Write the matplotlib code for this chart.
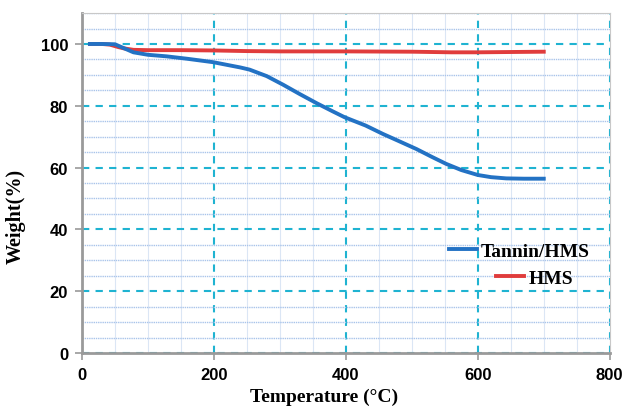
import matplotlib.pyplot as plt
from matplotlib.ticker import MultipleLocator

# TGA curves (temperature in C, weight in %)
tannin_temp = [12, 30, 50, 65, 78, 100, 128, 160, 199, 240, 254, 280, 305, 330, 356, 380,
               398, 430, 456, 480, 507, 530, 552, 575, 600, 620, 643, 670, 700]
tannin_wt = [100.0, 100.0, 99.9, 98.5, 97.3, 96.5, 96.0, 95.2, 94.1, 92.4, 91.7, 89.6, 86.8,
             83.8, 80.8, 78.2, 76.3, 73.6, 70.9, 68.6, 66.0, 63.5, 61.2, 59.2, 57.6, 56.9,
             56.5, 56.4, 56.4]

hms_temp = [12, 30, 42, 55, 63, 78, 100, 150, 200, 250, 300, 400, 500, 560, 600, 650, 700]
hms_wt = [100.0, 100.0, 99.8, 99.0, 98.6, 98.1, 98.0, 98.0, 97.9, 97.7, 97.6, 97.6, 97.5,
          97.3, 97.3, 97.4, 97.5]

fig = plt.figure(figsize=(6.26, 4.14), dpi=100)
ax = fig.add_axes([0.131, 0.145, 0.843, 0.821])

ax.set_xlim(0, 800)
ax.set_ylim(0, 110)
ax.xaxis.set_major_locator(MultipleLocator(200))
ax.xaxis.set_minor_locator(MultipleLocator(50))
ax.yaxis.set_major_locator(MultipleLocator(20))
ax.yaxis.set_minor_locator(MultipleLocator(5))

ax.grid(which='minor', axis='y', color='#a9c4ea', linewidth=1.0, linestyle=(0, (1, 0.6)))
ax.grid(which='minor', axis='x', color='#dbe6f5', linewidth=0.8)
ax.grid(which='major', color='#1fb3d1', linewidth=1.5, linestyle=(0, (3.5, 3)))
ax.set_axisbelow(True)

ax.plot(hms_temp, hms_wt, color='#e03c3c', linewidth=2.8, label='HMS', zorder=3)
ax.plot(tannin_temp, tannin_wt, color='#2372c4', linewidth=2.8, label='Tannin/HMS', zorder=4)

for side in ['left', 'bottom']:
    ax.spines[side].set_color('#9a9a9a')
    ax.spines[side].set_linewidth(2)
ax.spines['top'].set_color('#c8c8c8')
ax.spines['right'].set_color('#c8c8c8')
ax.tick_params(which='major', direction='out', length=5, width=1.2, color='#9a9a9a',
               labelsize=12, pad=5)
ax.tick_params(which='minor', length=0)
for lab in ax.get_xticklabels() + ax.get_yticklabels():
    lab.set_fontweight('bold')
    lab.set_fontfamily('Liberation Sans')

ax.set_xlabel('Temperature (°C)', fontsize=14, fontweight='bold', family='Liberation Serif')
ax.set_ylabel('Weight(%)', fontsize=14.5, fontweight='bold', family='Liberation Serif')
ax.xaxis.set_label_coords(0.458, -0.103)
ax.yaxis.set_label_coords(-0.106, 0.406)

h, l = ax.get_legend_handles_labels()
leg_font = {'family': 'Liberation Serif', 'weight': 'bold', 'size': 14}
leg_kw = dict(loc='center right', frameon=False, prop=leg_font, handlelength=1.45,
              handletextpad=0.2, borderpad=0, borderaxespad=0)
leg1 = ax.legend([h[1]], [l[1]], bbox_to_anchor=(0.962, 0.300), **leg_kw)
ax.add_artist(leg1)
ax.legend([h[0]], [l[0]], bbox_to_anchor=(0.930, 0.221), **leg_kw)

fig.savefig('out.png', dpi=100)
